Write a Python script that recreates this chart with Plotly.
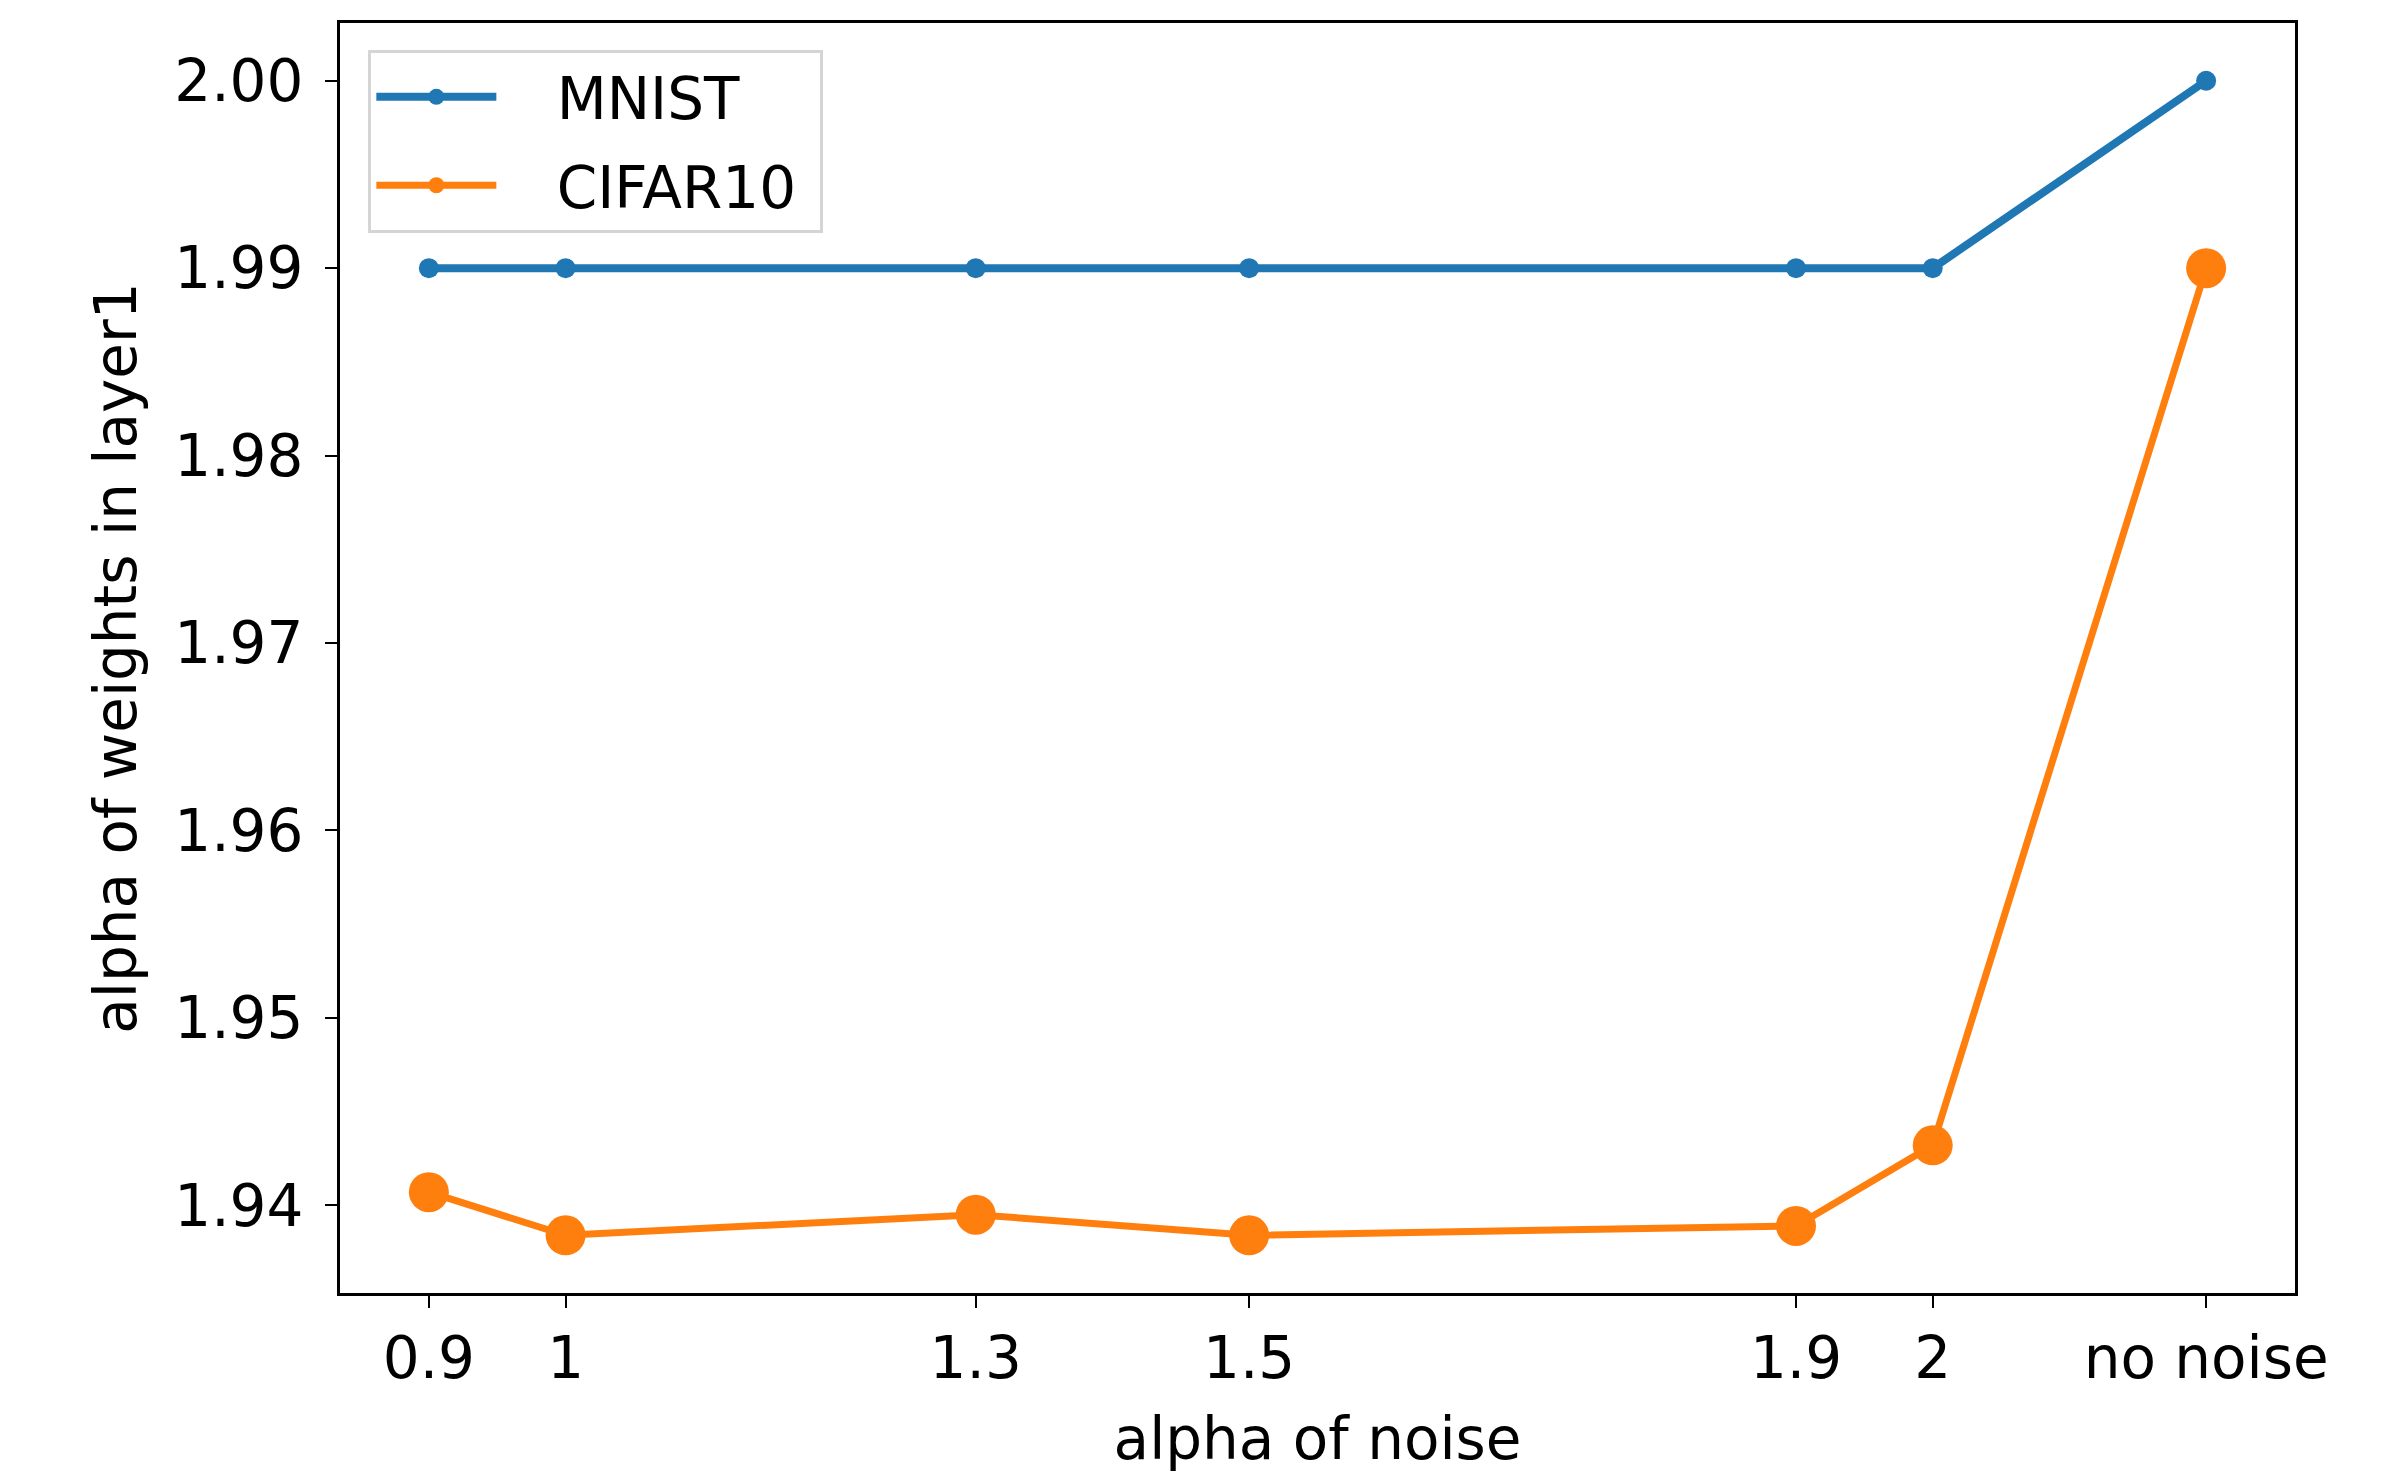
import plotly.graph_objects as go

x_vals = [0.9, 1.0, 1.3, 1.5, 1.9, 2.0, 2.2]
x_labels = ["0.9", "1", "1.3", "1.5", "1.9", "2", "no noise"]
mnist = [1.99, 1.99, 1.99, 1.99, 1.99, 1.99, 2.00]
cifar10 = [1.9407, 1.9384, 1.9395, 1.9384, 1.9389, 1.9432, 1.99]

FONT = "DejaVu Sans"
FS = 58
PAD = "\u00a0\u00a0\u00a0"

fig = go.Figure()
fig.add_trace(go.Scatter(x=x_vals, y=mnist, mode="lines+markers",
                         name=PAD + "MNIST", legendgroup="a",
                         line=dict(color="#1f77b4", width=8),
                         marker=dict(color="#1f77b4", size=20)))
fig.add_trace(go.Scatter(x=x_vals, y=cifar10, mode="lines+markers",
                         name=PAD + "CIFAR10\u00a0", legendgroup="b",
                         line=dict(color="#ff7f0e", width=7),
                         marker=dict(color="#ff7f0e", size=40)))

ax_common = dict(showline=True, linewidth=3, linecolor="black", mirror=True,
                 ticks="outside", ticklen=12, tickwidth=2, tickcolor="black",
                 showgrid=False, zeroline=False,
                 tickfont=dict(family=FONT, size=FS, color="black"))

fig.update_xaxes(range=[0.835, 2.265], tickmode="array", tickvals=x_vals, ticktext=x_labels,
                 title=dict(text="alpha of noise", font=dict(family=FONT, size=FS, color="black"), standoff=28),
                 **ax_common)
fig.update_yaxes(range=[1.93532, 2.00308], dtick=0.01, tick0=1.94, tickformat=".2f",
                 ticklabelstandoff=10,
                 title=dict(text="alpha of weights in layer1", font=dict(family=FONT, size=FS, color="black"), standoff=19),
                 **ax_common)

fig.update_layout(
    width=2399, height=1475,
    margin=dict(l=332, r=112, t=15, b=190),
    plot_bgcolor="white", paper_bgcolor="white",
    font=dict(family=FONT, size=FS, color="black"),
    legend=dict(x=0.0145, y=0.979, xanchor="left", yanchor="top",
                bgcolor="white", bordercolor="#d5d5d5", borderwidth=3,
                font=dict(family=FONT, size=FS, color="black"),
                itemwidth=120, tracegroupgap=10, traceorder="grouped"),
    showlegend=True,
)

fig.write_html("out.html")
